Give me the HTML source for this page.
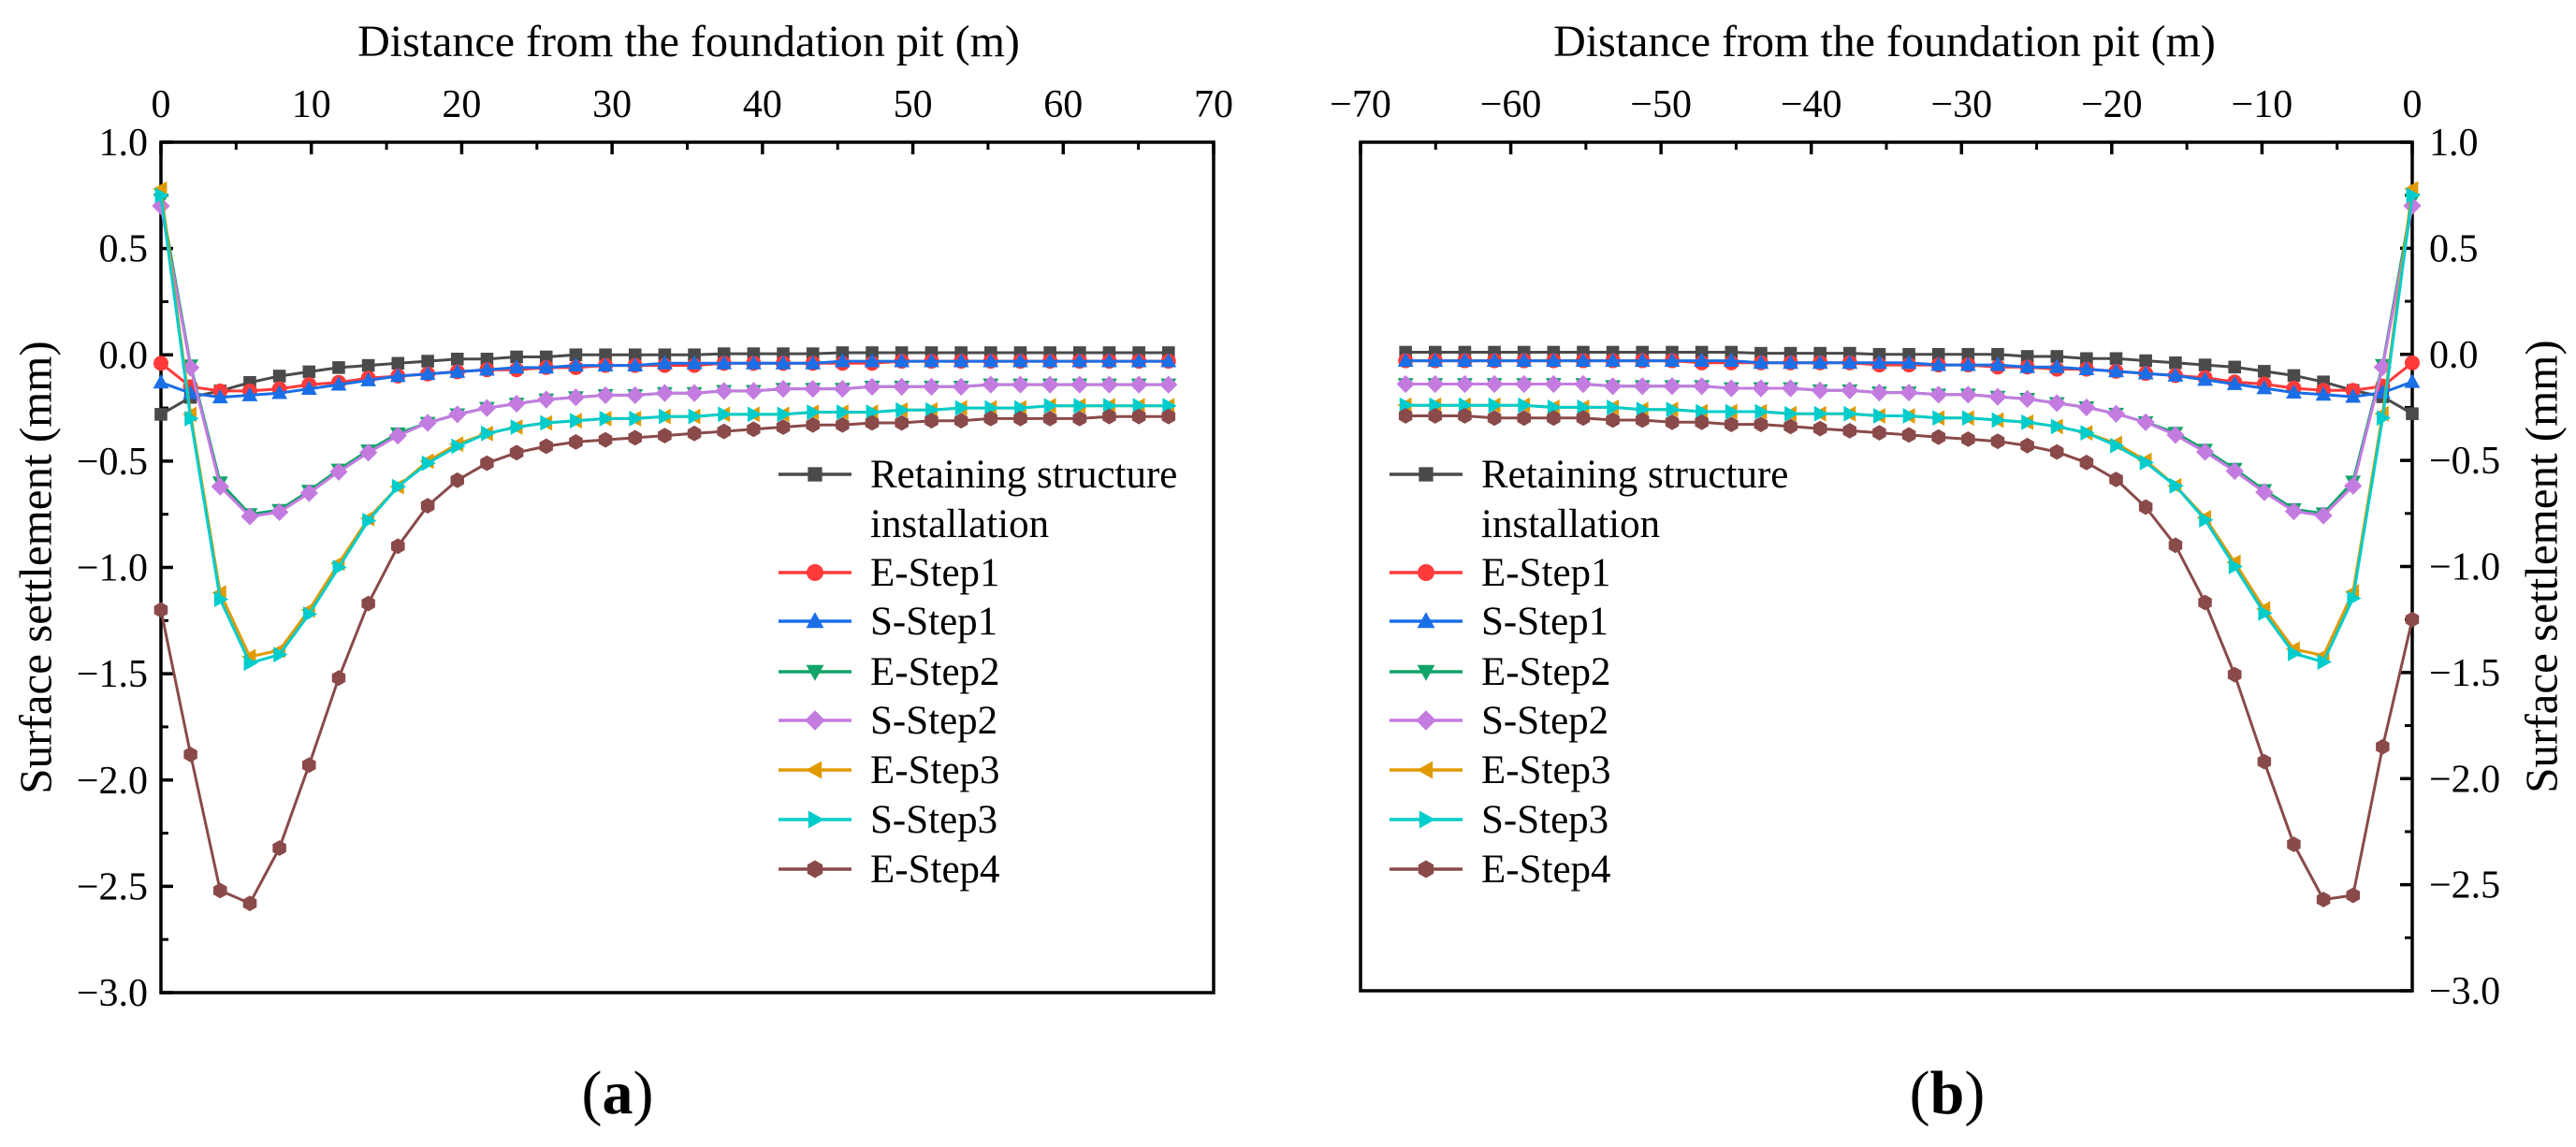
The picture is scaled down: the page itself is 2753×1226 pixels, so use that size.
<!DOCTYPE html>
<html><head><meta charset="utf-8"><style>
html,body{margin:0;padding:0;background:#fff;}
svg{display:block;}
svg text{font-family:"Liberation Serif","Times New Roman",serif;}
</style></head><body>
<svg id="fig" width="2753" height="1226" viewBox="0 0 2753 1226" xmlns="http://www.w3.org/2000/svg" font-family="Liberation Serif, serif"></svg>
<script>
// ---- data ----
const distA = [0,1.97,3.94,5.91,7.88,9.85,11.82,13.79,15.76,17.74,19.71,21.68,23.65,25.62,27.59,29.56,31.53,33.5,35.47,37.44,39.41,41.38,43.35,45.32,47.29,49.26,51.24,53.21,55.18,57.15,59.12,61.09,63.06,65.03,67];
const distB = [0,-1.97,-3.94,-5.91,-7.88,-9.85,-11.82,-13.79,-15.76,-17.74,-19.71,-21.68,-23.65,-25.62,-27.59,-29.56,-31.53,-33.5,-35.47,-37.44,-39.41,-41.38,-43.35,-45.32,-47.29,-49.26,-51.24,-53.21,-55.18,-57.15,-59.12,-61.09,-63.06,-65.03,-67];
const seriesNames = ["Retaining structure installation","E-Step1","S-Step1","E-Step2","S-Step2","E-Step3","S-Step3","E-Step4"];
const retaining = [-0.28,-0.2,-0.17,-0.13,-0.1,-0.08,-0.06,-0.05,-0.04,-0.03,-0.02,-0.02,-0.01,-0.01,0,0,0,0,0,0.005,0.005,0.005,0.005,0.01,0.01,0.01,0.01,0.01,0.01,0.01,0.01,0.01,0.01,0.01,0.01];
const eStep1 = [-0.04,-0.15,-0.17,-0.17,-0.16,-0.14,-0.13,-0.11,-0.1,-0.09,-0.08,-0.07,-0.07,-0.06,-0.06,-0.05,-0.05,-0.05,-0.05,-0.04,-0.04,-0.04,-0.04,-0.04,-0.04,-0.03,-0.03,-0.03,-0.03,-0.03,-0.03,-0.03,-0.03,-0.03,-0.03];
const sStep1 = [-0.13,-0.18,-0.2,-0.19,-0.18,-0.16,-0.14,-0.12,-0.1,-0.09,-0.08,-0.07,-0.06,-0.06,-0.05,-0.05,-0.05,-0.04,-0.04,-0.04,-0.04,-0.04,-0.04,-0.03,-0.03,-0.03,-0.03,-0.03,-0.03,-0.03,-0.03,-0.03,-0.03,-0.03,-0.03];
const eStep2 = [0.73,-0.05,-0.6,-0.75,-0.73,-0.64,-0.54,-0.45,-0.37,-0.32,-0.28,-0.25,-0.23,-0.21,-0.2,-0.19,-0.19,-0.18,-0.18,-0.17,-0.17,-0.16,-0.16,-0.16,-0.15,-0.15,-0.15,-0.15,-0.14,-0.14,-0.14,-0.14,-0.14,-0.14,-0.14];
const sStep2 = [0.7,-0.06,-0.62,-0.76,-0.74,-0.65,-0.55,-0.46,-0.38,-0.32,-0.28,-0.25,-0.23,-0.21,-0.2,-0.19,-0.19,-0.18,-0.18,-0.17,-0.17,-0.16,-0.16,-0.16,-0.15,-0.15,-0.15,-0.15,-0.14,-0.14,-0.14,-0.14,-0.14,-0.14,-0.14];
const eStep3 = [0.78,-0.28,-1.12,-1.42,-1.39,-1.2,-0.98,-0.77,-0.62,-0.5,-0.42,-0.37,-0.34,-0.32,-0.31,-0.3,-0.3,-0.29,-0.29,-0.28,-0.28,-0.28,-0.27,-0.27,-0.27,-0.26,-0.26,-0.25,-0.25,-0.25,-0.24,-0.24,-0.24,-0.24,-0.24];
const sStep3 = [0.75,-0.3,-1.15,-1.45,-1.41,-1.22,-1.0,-0.78,-0.62,-0.51,-0.43,-0.37,-0.34,-0.32,-0.31,-0.3,-0.3,-0.29,-0.29,-0.28,-0.28,-0.28,-0.27,-0.27,-0.27,-0.26,-0.26,-0.25,-0.25,-0.25,-0.24,-0.24,-0.24,-0.24,-0.24];
const eStep4A = [-1.2,-1.88,-2.52,-2.58,-2.32,-1.93,-1.52,-1.17,-0.9,-0.71,-0.59,-0.51,-0.46,-0.43,-0.41,-0.4,-0.39,-0.38,-0.37,-0.36,-0.35,-0.34,-0.33,-0.33,-0.32,-0.32,-0.31,-0.31,-0.3,-0.3,-0.3,-0.3,-0.29,-0.29,-0.29];
const eStep4B = [-1.25,-1.85,-2.55,-2.57,-2.31,-1.92,-1.51,-1.17,-0.9,-0.72,-0.59,-0.51,-0.46,-0.43,-0.41,-0.4,-0.39,-0.38,-0.37,-0.36,-0.35,-0.34,-0.33,-0.33,-0.32,-0.32,-0.31,-0.31,-0.3,-0.3,-0.3,-0.3,-0.29,-0.29,-0.29];
const xTicksA = [0,10,20,30,40,50,60,70];
const xTicksB = [-70,-60,-50,-40,-30,-20,-10,0];
const yTicks = [1.0,0.5,0.0,-0.5,-1.0,-1.5,-2.0,-2.5,-3.0];

const colors = ["#4a4a4a","#ff3a3a","#1a6ee6","#10a468","#c47be0","#e09a00","#00cccc","#8a4a4a"];
const markers = ["square","circle","up","down","diamond","left","right","hex"];
const FONT = '"Liberation Serif", "Times New Roman", serif';

const NS = "http://www.w3.org/2000/svg";
const svg = document.getElementById("fig");
function mk(tag, attrs, parent){
  const e = document.createElementNS(NS, tag);
  for (const k in attrs) e.setAttribute(k, attrs[k]);
  if (tag==="text") e.style.fontFamily = FONT;
  (parent||svg).appendChild(e);
  return e;
}
function fmt(v){ return (v<0?"\u2212":"") + Math.abs(v).toFixed(1); }
function fmtX(v){ return (v<0?"\u2212":"") + Math.abs(v); }

function marker(g, type, x, y, color, s){
  let e;
  const r = s/2;
  if (type==="square") e = mk("rect",{x:x-r*0.85,y:y-r*0.85,width:r*1.7,height:r*1.7,fill:color},g);
  else if (type==="circle") e = mk("circle",{cx:x,cy:y,r:r,fill:color},g);
  else if (type==="up") e = mk("polygon",{points:`${x},${y-r*1.1} ${x+r*1.05},${y+r*0.8} ${x-r*1.05},${y+r*0.8}`,fill:color},g);
  else if (type==="down") e = mk("polygon",{points:`${x},${y+r*1.1} ${x+r*1.05},${y-r*0.8} ${x-r*1.05},${y-r*0.8}`,fill:color},g);
  else if (type==="diamond") e = mk("polygon",{points:`${x},${y-r*1.2} ${x+r*1.2},${y} ${x},${y+r*1.2} ${x-r*1.2},${y}`,fill:color},g);
  else if (type==="left") e = mk("polygon",{points:`${x-r*1.1},${y} ${x+r*0.8},${y-r*1.05} ${x+r*0.8},${y+r*1.05}`,fill:color},g);
  else if (type==="right") e = mk("polygon",{points:`${x+r*1.1},${y} ${x-r*0.8},${y-r*1.05} ${x-r*0.8},${y+r*1.05}`,fill:color},g);
  else {
    let p=[]; for(let i=0;i<6;i++){const a=Math.PI/6+i*Math.PI/3; p.push((x+r*1.05*Math.cos(a)).toFixed(1)+","+(y+r*1.05*Math.sin(a)).toFixed(1));}
    e = mk("polygon",{points:p.join(" "),fill:color},g);
  }
  
  
  return e;
}

function panel(opt){
  const {L,R,T,B,xMin,xMax,xTicks,dist,series,side,id,titleX,yTitleX,legendX,label,labelX} = opt;
  const yMin=-3, yMax=1;
  const X = v => L + (v-xMin)/(xMax-xMin)*(R-L);
  const Y = v => B - (v-yMin)/(yMax-yMin)*(B-T);
  const g = mk("g",{});
  
  
  const fr = mk("rect",{x:L,y:T,width:R-L,height:B-T,fill:"none",stroke:"#000","stroke-width":3.5},g);
  
  
  const xa = mk("g",{},g);
  
  
  for (let i=0;i<xTicks.length;i++){
    const v = xTicks[i], x = X(v);
    mk("line",{x1:x,y1:T,x2:x,y2:T+13,stroke:"#000","stroke-width":3.5},xa);
    const t = mk("text",{x:x,y:125,"font-size":42,"text-anchor":"middle",fill:"#000"},xa);
    t.textContent = fmtX(v);
    
    
    if (i<xTicks.length-1){
      const xm = X(v+5);
      mk("line",{x1:xm,y1:T,x2:xm,y2:T+8,stroke:"#000","stroke-width":3},xa);
    }
  }
  const xt = mk("text",{x:titleX,y:60,"font-size":48,"text-anchor":"middle",fill:"#000"},g);
  xt.textContent = "Distance from the foundation pit (m)";
  
  
  const ya = mk("g",{},g);
  
  
  const ax = side==="left"?L:R, dir = side==="left"?1:-1;
  for (let i=0;i<yTicks.length;i++){
    const v = yTicks[i], y = Y(v);
    mk("line",{x1:ax,y1:y,x2:ax+dir*13,y2:y,stroke:"#000","stroke-width":3.5},ya);
    if (i<yTicks.length-1){
      const ym = Y(v-0.25);
      mk("line",{x1:ax,y1:ym,x2:ax+dir*8,y2:ym,stroke:"#000","stroke-width":3},ya);
    }
    const t = mk("text",{x:side==="left"?L-14:R+18,y:y+14,"font-size":42,"text-anchor":side==="left"?"end":"start",fill:"#000"},ya);
    t.textContent = fmt(v);
    
    
  }
  const cy = (T+B)/2;
  const yt = mk("text",{x:yTitleX,y:cy,"font-size":49,"text-anchor":"middle",fill:"#000",transform:`rotate(-90 ${yTitleX} ${cy})`,"dominant-baseline":"central"},g);
  yt.textContent = "Surface settlement (mm)";
  
  
  for (let s=0;s<series.length;s++){
    const sg = mk("g",{},g);
    
    
    const vals = series[s];
    const pts = vals.map((v,i)=>X(dist[i]).toFixed(1)+","+Y(v).toFixed(1)).join(" ");
    const pl = mk("polyline",{points:pts,fill:"none",stroke:colors[s],"stroke-width":3,"stroke-linejoin":"round"},sg);
    
    
    vals.forEach((v,i)=>marker(sg,markers[s],X(dist[i]),Y(v),colors[s],16));
  }
  const lg = mk("g",{},g);
  
  
  const rows = [507,612,664,718,770,823,876,929];
  for (let s=0;s<seriesNames.length;s++){
    const y = rows[s];
    const eg = mk("g",{},lg);
    
    
    mk("line",{x1:legendX,y1:y,x2:legendX+78,y2:y,stroke:colors[s],"stroke-width":3.5},eg);
    marker(eg,markers[s],legendX+39,y,colors[s],18);
    const t = mk("text",{x:legendX+98,y:y+14,"font-size":43,fill:"#000"},eg);
    if (s===0){
      t.textContent = "Retaining structure";
      const t2 = mk("text",{x:legendX+98,y:560+14,"font-size":43,fill:"#000"},eg);
      t2.textContent = "installation";
    } else t.textContent = seriesNames[s];
  }
  const lb = mk("text",{x:labelX,y:1190,"font-size":66,"text-anchor":"middle",fill:"#000"},g);
  lb.innerHTML = '(<tspan font-weight="bold">'+label+'</tspan>)';
  
  
}

panel({L:172,R:1297,T:152,B:1061,xMin:0,xMax:70,xTicks:xTicksA,dist:distA,
  series:[retaining,eStep1,sStep1,eStep2,sStep2,eStep3,sStep3,eStep4A],
  side:"left",id:"a",titleX:736,yTitleX:38,legendX:832,label:"a",labelX:660});
panel({L:1454,R:2578,T:152,B:1059,xMin:-70,xMax:0,xTicks:xTicksB,dist:distB,
  series:[retaining,eStep1,sStep1,eStep2,sStep2,eStep3,sStep3,eStep4B],
  side:"right",id:"b",titleX:2014,yTitleX:2716,legendX:1485,label:"b",labelX:2081});
</script>
</body></html>
